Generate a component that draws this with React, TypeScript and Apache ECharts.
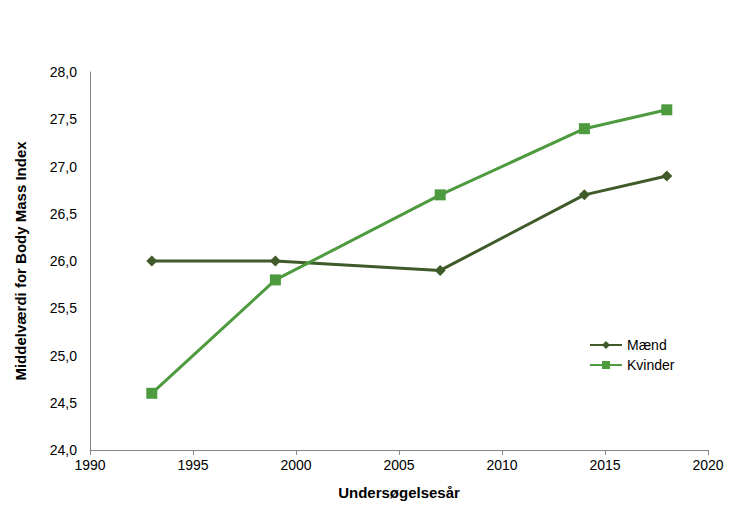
import React, { useEffect, useRef } from "react";
import * as echarts from "echarts";

const years = [1993, 1999, 2007, 2014, 2018];
const maend = [26.0, 26.0, 25.9, 26.7, 26.9];
const kvinder = [24.6, 25.8, 26.7, 27.4, 27.6];
const seriesNames = ["Mænd", "Kvinder"];

export default function App() {
  const ref = useRef<HTMLDivElement>(null);
  useEffect(() => {
    const chart = echarts.init(ref.current!, null, { renderer: "svg" });
    const font = "Arial, 'Liberation Sans', sans-serif";
    chart.setOption({
      animation: false,
      backgroundColor: "#ffffff",
      textStyle: { fontFamily: font },
      grid: { left: 90, right: 42, top: 72, bottom: 68 },
      legend: {
        orient: "vertical",
        left: 584,
        top: 333,
        itemWidth: 32,
        itemHeight: 10,
        itemGap: 6,
        textStyle: { fontSize: 14, color: "#000", fontFamily: font },
        data: seriesNames,
      },
      xAxis: {
        type: "value",
        min: 1990,
        max: 2020,
        interval: 5,
        name: "Undersøgelsesår",
        nameLocation: "middle",
        nameGap: 35,
        nameTextStyle: { fontSize: 15, fontWeight: "bold", color: "#000", fontFamily: font },
        axisLine: { lineStyle: { color: "#868686", width: 1 } },
        axisTick: { show: true, length: 5, lineStyle: { color: "#868686" } },
        axisLabel: {
          fontSize: 14,
          color: "#000",
          margin: 8,
          fontFamily: font,
          formatter: (v: number) => String(v),
        },
        splitLine: { show: false },
      },
      yAxis: {
        type: "value",
        min: 24,
        max: 28,
        interval: 0.5,
        name: "Middelværdi for Body Mass Index",
        nameLocation: "middle",
        nameGap: 62,
        nameTextStyle: { fontSize: 15, fontWeight: "bold", color: "#000", fontFamily: font },
        axisLine: { show: true, lineStyle: { color: "#868686", width: 1 } },
        axisTick: { show: false },
        axisLabel: {
          fontSize: 14,
          color: "#000",
          margin: 13,
          fontFamily: font,
          formatter: (v: number) => v.toFixed(1).replace(".", ","),
        },
        splitLine: { show: false },
      },
      series: [
        {
          name: seriesNames[0],
          type: "line",
          data: years.map((y, i) => [y, maend[i]]),
          symbol: "diamond",
          symbolSize: 11,
          lineStyle: { width: 3, color: "#3F5B29" },
          itemStyle: { color: "#3F5B29" },
        },
        {
          name: seriesNames[1],
          type: "line",
          data: years.map((y, i) => [y, kvinder[i]]),
          symbol: "rect",
          symbolSize: 11,
          lineStyle: { width: 3, color: "#4E9A3F" },
          itemStyle: { color: "#4E9A3F" },
        },
      ],
    });
    return () => chart.dispose();
  }, []);
  return <div ref={ref} style={{ width: 750, height: 518, position: "absolute", left: 0, top: 0 }} />;
}
